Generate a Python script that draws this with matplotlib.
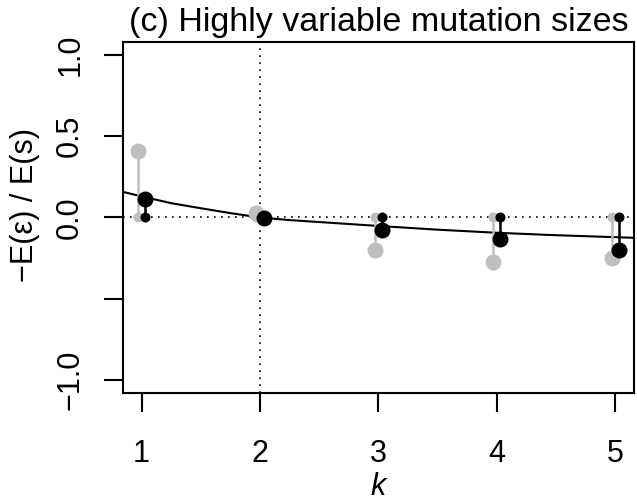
import matplotlib.pyplot as plt

plt.rcParams['font.family'] = ['Liberation Sans', 'DejaVu Sans']

# k positions and the two sets of expected values (grey = simulated, black = corrected)
k = [1, 2, 3, 4, 5]
grey_vals = [0.41, 0.025, -0.197, -0.272, -0.252]
black_vals = [0.113, -0.006, -0.078, -0.133, -0.201]

# theoretical curve
curve_k = [0.84, 1.0, 1.25, 1.5, 1.75, 2.0, 2.25, 2.5, 2.75, 3.0, 3.5, 4.0, 4.5, 5.0, 5.16]
curve_v = [0.158, 0.13, 0.088, 0.057, 0.027, 0.0, -0.016, -0.028, -0.040, -0.052,
           -0.075, -0.094, -0.109, -0.121, -0.125]

xticks = [1, 2, 3, 4, 5]
yticks = [-1.0, -0.5, 0.0, 0.5, 1.0]
ytick_labels = ['\u22121.0', '', '0.0', '0.5', '1.0']

GREY = '#bebebe'
off = 0.03

fig = plt.figure(figsize=(6.37, 5.03), dpi=100)
ax = fig.add_axes([0.1926, 0.2187, 0.8027, 0.6978])

ax.axhline(0, color='black', lw=1.2, ls=(0, (1, 3.2)), zorder=1)
ax.axvline(2, color='black', lw=1.2, ls=(0, (1, 3.2)), zorder=1)

ax.plot(curve_k, curve_v, color='black', lw=1.5, zorder=2)

for x, v in zip(k, grey_vals):
    ax.plot([x - off, x - off], [0, v], color=GREY, lw=1.8, zorder=3)
    ax.plot(x - off, 0, 'o', color=GREY, ms=7.2, mew=0, zorder=3)
    ax.plot(x - off, v, 'o', color=GREY, ms=11.5, mew=0, zorder=3)

for x, v in zip(k, black_vals):
    ax.plot([x + off, x + off], [0, v], color='black', lw=1.8, zorder=4)
    ax.plot(x + off, 0, 'o', color='black', ms=7.2, mew=0, zorder=4)
    ax.plot(x + off, v, 'o', color='black', ms=11.5, mew=0, zorder=4)

ax.set_xlim(0.84, 5.16)
ax.set_ylim(-1.08, 1.08)
ax.set_xticks(xticks)
ax.set_xticklabels([str(t) for t in xticks])
ax.set_yticks(yticks)
ax.set_yticklabels(ytick_labels, rotation=90, va='center')
ax.tick_params(axis='both', length=14, width=1.5, labelsize=22)
ax.tick_params(axis='x', pad=19)
ax.tick_params(axis='y', pad=13)
for s in ax.spines.values():
    s.set_linewidth(1.5)

fig.text(0.594, 1 - 31 / 503, '(c) Highly variable mutation sizes', ha='center',
         va='baseline', fontsize=24.5)
fig.text(0.594, 1 - 495 / 503, 'k', ha='center', va='baseline', fontsize=22,
         style='italic')
fig.text(25 / 637, 1 - 205 / 503, '\u2212E(\u03b5) / E(s)', ha='center', va='center',
         rotation=90, fontsize=22)

fig.savefig('out.png', dpi=100)
